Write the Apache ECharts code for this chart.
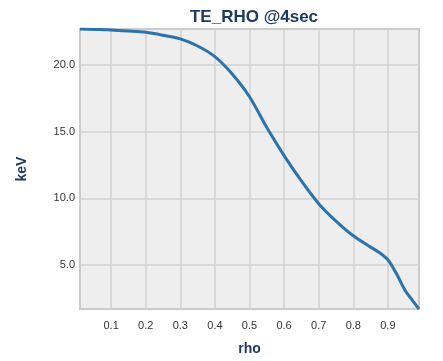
<!DOCTYPE html>
<html>
<head>
<meta charset="utf-8">
<script src="https://cdn.jsdelivr.net/npm/echarts@6/dist/echarts.min.js"></script>
<style>html,body{margin:0;padding:0;background:#fff;}#c{width:443px;height:361px;}</style>
</head>
<body>
<div id="c"></div>
<script>
var rho = [0.01, 0.05, 0.1, 0.15, 0.2, 0.25, 0.3, 0.35, 0.4, 0.45, 0.5, 0.55, 0.6, 0.65, 0.7, 0.75, 0.8, 0.85, 0.875, 0.9, 0.925, 0.95, 0.97, 0.99];
var te = [22.67, 22.64, 22.6, 22.52, 22.42, 22.2, 21.93, 21.4, 20.6, 19.3, 17.6, 15.3, 13.2, 11.3, 9.6, 8.3, 7.2, 6.35, 5.95, 5.4, 4.35, 3.1, 2.4, 1.72];
var title = 'TE_RHO @4sec';
var xName = 'rho';
var yName = 'keV';

var navy = '#1d3b63';
var chart = echarts.init(document.getElementById('c'));
chart.setOption({
  animation: false,
  backgroundColor: '#ffffff',
  title: {
    text: title, left: 249, top: 4, textAlign: 'center',
    textStyle: {color: navy, fontSize: 17, fontWeight: 'bold', fontFamily: 'Liberation Sans'}
  },
  grid: {left: 80, right: 24, top: 29, bottom: 49, show: true, backgroundColor: '#eeeeee', borderColor: '#bdbdbd', borderWidth: 2},
  xAxis: {
    type: 'value', min: 0.01, max: 0.99, splitNumber: 10, minInterval: 0.1, maxInterval: 0.1,
    name: xName, nameLocation: 'middle', nameGap: 33,
    nameTextStyle: {color: navy, fontSize: 14, fontWeight: 'bold', fontFamily: 'Liberation Sans'},
    axisLine: {show: false}, axisTick: {show: false},
    axisLabel: {showMinLabel: false, showMaxLabel: false, color: '#333', fontSize: 11, fontFamily: 'Liberation Sans', margin: 11,
      formatter: function(v){return v.toFixed(1);}},
    splitLine: {lineStyle: {color: '#d2d2d2', width: 1.5}}
  },
  yAxis: {
    type: 'value', min: 1.72, max: 22.67, splitNumber: 5, minInterval: 5, maxInterval: 5,
    name: yName, nameLocation: 'middle', nameGap: 51, nameRotate: 90,
    nameTextStyle: {color: navy, fontSize: 14, fontWeight: 'bold', fontFamily: 'Liberation Sans'},
    axisLine: {show: false}, axisTick: {show: false},
    axisLabel: {showMinLabel: false, showMaxLabel: false, color: '#333', fontSize: 11, fontFamily: 'Liberation Sans', margin: 5,
      formatter: function(v){return v.toFixed(1);}},
    splitLine: {lineStyle: {color: '#d2d2d2', width: 1.5}}
  },
  series: [{
    type: 'line', smooth: 0.3, showSymbol: false,
    data: rho.map(function(r, i){return [r, te[i]];}),
    lineStyle: {color: '#2a73ad', width: 3},
    itemStyle: {color: '#2a73ad'}
  }]
});
</script>
</body>
</html>
